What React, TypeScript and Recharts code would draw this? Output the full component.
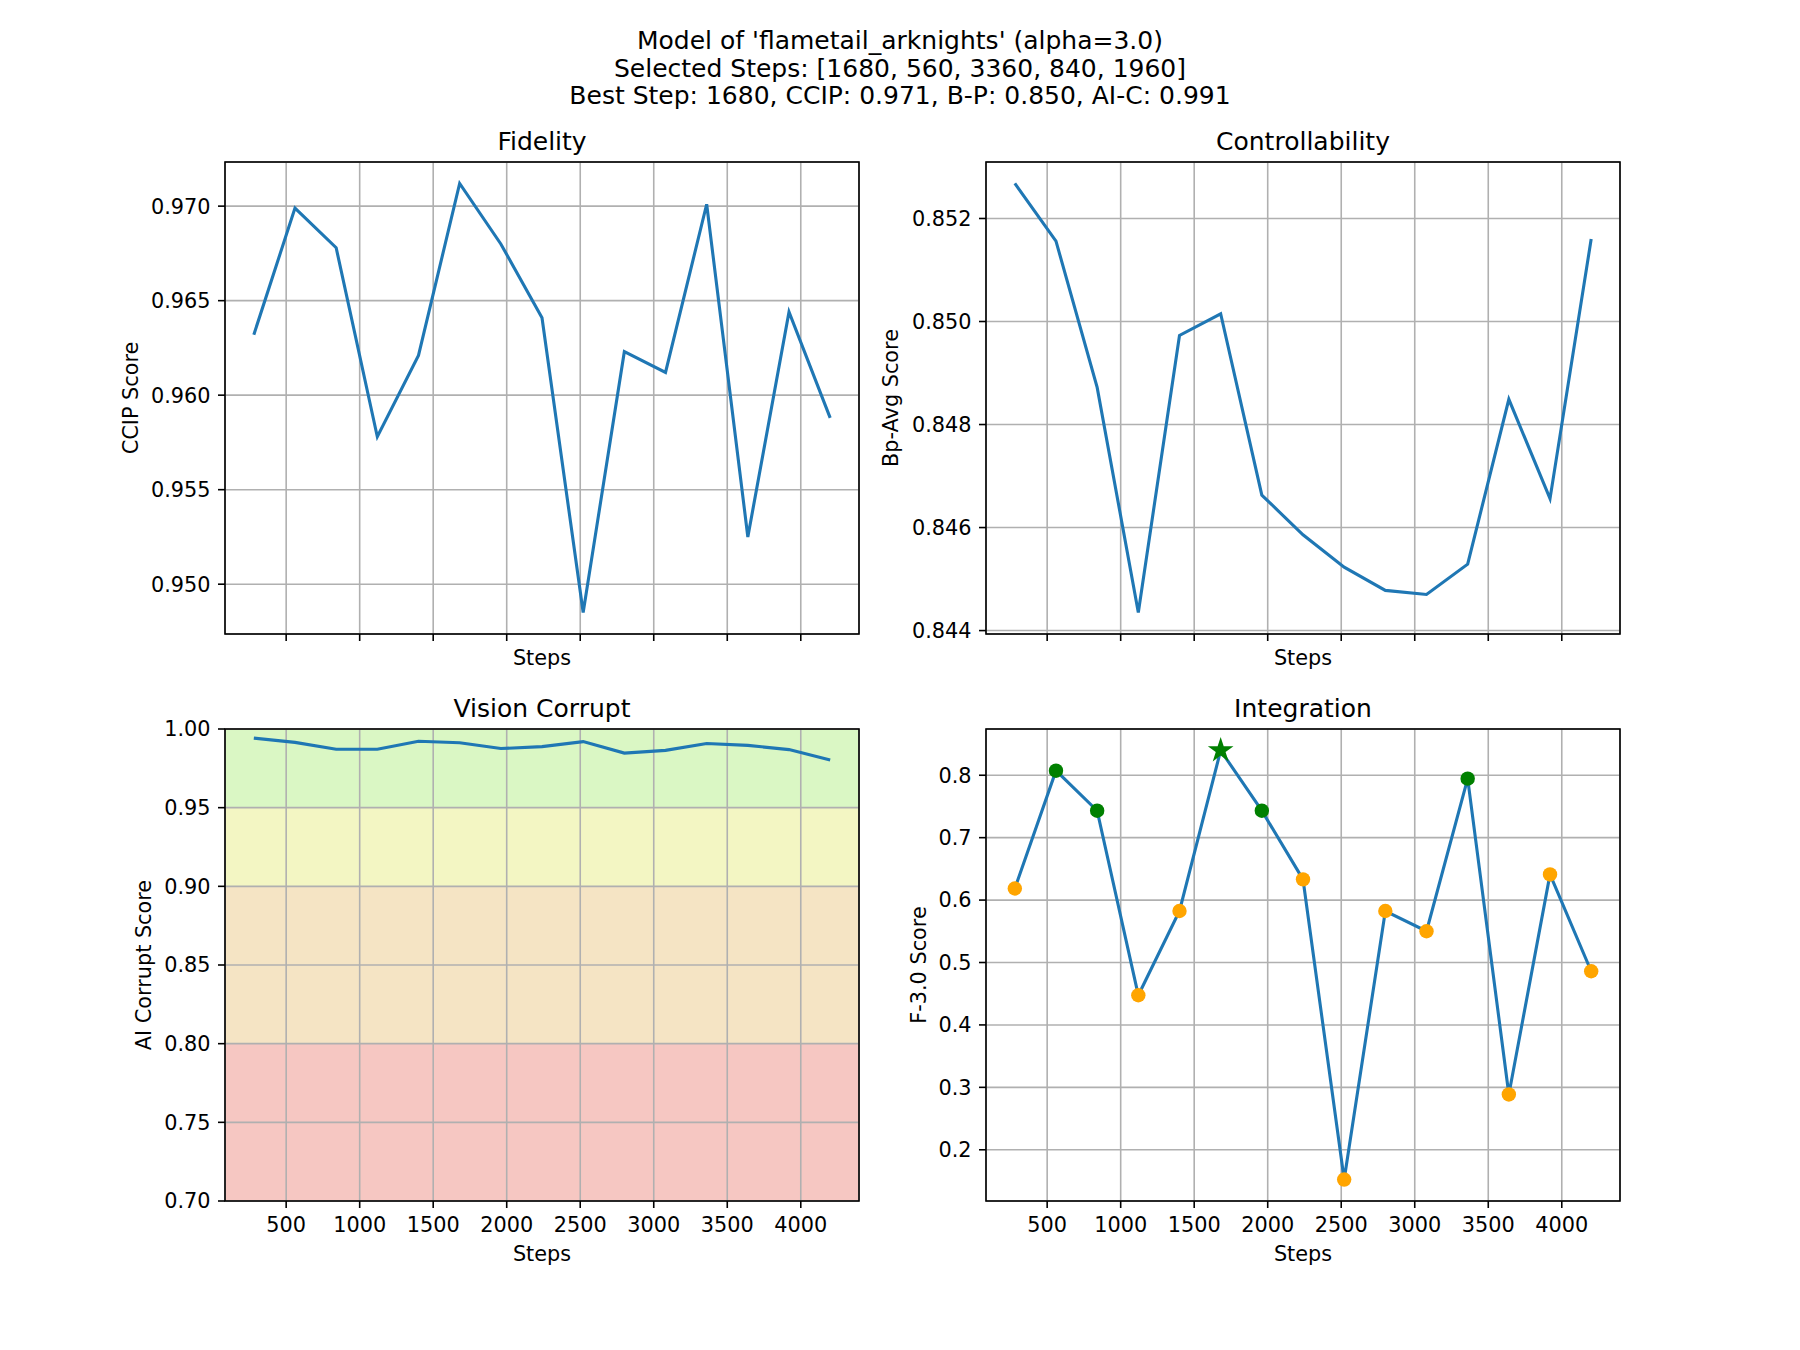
import React from 'react';
import {
  LineChart,
  Line,
  XAxis,
  YAxis,
  CartesianGrid,
  ReferenceArea
} from 'recharts';

// ---- data ----
const steps = [280, 560, 840, 1120, 1400, 1680, 1960, 2240, 2520, 2800, 3080, 3360, 3640, 3920, 4200];
const ccipScores = [0.9632, 0.9699, 0.9678, 0.9578, 0.9621, 0.9712, 0.968, 0.9641, 0.9485, 0.9623, 0.9612, 0.9701, 0.9525, 0.9644, 0.9588];
const bpAvgScores = [0.85268, 0.85156, 0.84872, 0.84435, 0.84973, 0.85015, 0.84663, 0.84586, 0.84523, 0.84478, 0.8447, 0.84529, 0.84849, 0.84656, 0.8516];
const aiCorruptScores = [0.9942, 0.9915, 0.9871, 0.9871, 0.9922, 0.9913, 0.9876, 0.9888, 0.992, 0.9847, 0.9864, 0.9908, 0.9896, 0.9869, 0.9803];
const f3Scores = [0.6185, 0.8073, 0.7432, 0.4475, 0.5825, 0.8397, 0.7432, 0.6332, 0.1523, 0.5825, 0.5501, 0.7945, 0.2886, 0.6411, 0.486];

const selectedSteps = [1680, 560, 3360, 840, 1960];
const bestStep = 1680;

const xTicks = [500, 1000, 1500, 2000, 2500, 3000, 3500, 4000];
const ccipTicks = [0.95, 0.955, 0.96, 0.965, 0.97];
const bpTicks = [0.844, 0.846, 0.848, 0.85, 0.852];
const aiTicks = [0.7, 0.75, 0.8, 0.85, 0.9, 0.95, 1.0];
const f3Ticks = [0.2, 0.3, 0.4, 0.5, 0.6, 0.7, 0.8];
const corruptBands = [0.7, 0.8, 0.9, 0.95, 1.0];

const titleLines = [
  "Model of 'flametail_arknights' (alpha=3.0)",
  'Selected Steps: [1680, 560, 3360, 840, 1960]',
  'Best Step: 1680, CCIP: 0.971, B-P: 0.850, AI-C: 0.991'
];

// ---- styles ----
const FONT = '"DejaVu Sans", sans-serif';
const BLUE = '#1f77b4';
const GRID = '#b0b0b0';
const bandColors = ['#f6c7c2', '#f5e4c4', '#f3f6c3', '#daf7c4'];
const AX_W = 634;
const AX_H = 472;
const COLS = [225, 986];
const ROWS = [162, 729];

const rows = steps.map((s, i) => ({
  step: s,
  ccip: ccipScores[i],
  bp: bpAvgScores[i],
  ai: aiCorruptScores[i],
  f3: f3Scores[i]
}));

const padded = (vals: number[]): [number, number] => {
  const lo = Math.min(...vals);
  const hi = Math.max(...vals);
  const m = (hi - lo) * 0.05;
  return [lo - m, hi + m];
};

const xDomain = padded(steps);

const tickStyle = { fontFamily: FONT, fontSize: 20.8, fill: '#000' };
const tickLine = { stroke: '#000', strokeWidth: 1.6 };

interface PanelProps {
  left: number;
  top: number;
  dataKey: string;
  domain: [number, number];
  yTicks: number[];
  digits: number;
  showXLabels: boolean;
  children?: React.ReactNode;
  before?: React.ReactNode;
}

const Panel: React.FC<PanelProps> = ({ left, top, dataKey, domain, yTicks, digits, showXLabels, children, before }) => (
  <div style={{ position: 'absolute', left: left - 100, top: top - 20 }}>
    <LineChart width={AX_W + 120} height={AX_H + 80} data={rows} margin={{ top: 20, right: 20, left: 0, bottom: 0 }}>
      {before}
      <CartesianGrid stroke={GRID} strokeWidth={1.6} />
      <XAxis
        type="number"
        dataKey="step"
        domain={xDomain}
        ticks={xTicks}
        height={60}
        axisLine={false}
        tickLine={tickLine}
        tickSize={7}
        tickMargin={9}
        tick={tickStyle}
        interval={0}
        tickFormatter={(v: number) => (showXLabels ? String(v) : '')}
      />
      <YAxis
        type="number"
        domain={domain}
        ticks={yTicks}
        width={100}
        axisLine={false}
        tickLine={tickLine}
        tickSize={7}
        tickMargin={7.5}
        tick={tickStyle}
        interval={0}
        tickFormatter={(v: number) => v.toFixed(digits)}
      />
      {children}
      <Line type="linear" dataKey={dataKey} stroke={BLUE} strokeWidth={3.1} dot={false} isAnimationActive={false} />
    </LineChart>
  </div>
);

const starPoints = (cx: number, cy: number, r: number) => {
  const pts: string[] = [];
  for (let k = 0; k < 10; k++) {
    const rad = k % 2 === 0 ? r : r * 0.382;
    const a = -Math.PI / 2 + (k * Math.PI) / 5;
    pts.push(`${cx + rad * Math.cos(a)},${cy + rad * Math.sin(a)}`);
  }
  return pts.join(' ');
};

const renderF3Dot = (props: any) => {
  const { cx, cy, payload, index } = props;
  if (payload.step === bestStep) {
    return <polygon key={`d${index}`} points={starPoints(cx, cy, 13.5)} fill="green" />;
  }
  const picked = selectedSteps.includes(payload.step);
  return <circle key={`d${index}`} cx={cx} cy={cy} r={7.2} fill={picked ? 'green' : 'orange'} />;
};

const panels = [
  { title: 'Fidelity', ylabel: 'CCIP Score', x: COLS[0], y: ROWS[0], labelX: 137.5 },
  { title: 'Controllability', ylabel: 'Bp-Avg Score', x: COLS[1], y: ROWS[0], labelX: 898 },
  { title: 'Vision Corrupt', ylabel: 'AI Corrupt Score', x: COLS[0], y: ROWS[1], labelX: 151 },
  { title: 'Integration', ylabel: 'F-3.0 Score', x: COLS[1], y: ROWS[1], labelX: 926 }
];

export default function App() {
  return (
    <div style={{ position: 'absolute', left: 0, top: 0, width: 1800, height: 1350, background: '#fff', fontFamily: FONT }}>
      <Panel left={COLS[0]} top={ROWS[0]} dataKey="ccip" domain={padded(ccipScores)} yTicks={ccipTicks} digits={3} showXLabels={false} />
      <Panel left={COLS[1]} top={ROWS[0]} dataKey="bp" domain={padded(bpAvgScores)} yTicks={bpTicks} digits={3} showXLabels={false} />
      <Panel
        left={COLS[0]}
        top={ROWS[1]}
        dataKey="ai"
        domain={[0.7, 1.0]}
        yTicks={aiTicks}
        digits={2}
        showXLabels={true}
        before={corruptBands.slice(0, -1).map((lo, i) => (
          <ReferenceArea
            key={`band${i}`}
            y1={lo}
            y2={corruptBands[i + 1]}
            fill={bandColors[i]}
            fillOpacity={1}
            stroke="none"
            zIndex={-200}
          />
        ))}
      />
      <Panel left={COLS[1]} top={ROWS[1]} dataKey="f3" domain={padded(f3Scores)} yTicks={f3Ticks} digits={1} showXLabels={true}>
        <Line type="linear" dataKey="f3" stroke="none" dot={renderF3Dot} activeDot={false} isAnimationActive={false} />
      </Panel>

      <svg width={1800} height={1350} style={{ position: 'absolute', left: 0, top: 0, pointerEvents: 'none' }} fontFamily={FONT}>
        {titleLines.map((t, i) => (
          <text key={t} x={900} y={[49, 77, 104][i]} textAnchor="middle" fontSize={25} fill="#000">
            {t}
          </text>
        ))}
        {panels.map((p) => (
          <g key={p.title}>
            <rect x={p.x} y={p.y} width={AX_W} height={AX_H} fill="none" stroke="#000" strokeWidth={1.6} />
            <text x={p.x + AX_W / 2} y={p.y - 12.5} textAnchor="middle" fontSize={25} fill="#000">
              {p.title}
            </text>
            <text x={p.x + AX_W / 2} y={p.y === ROWS[0] ? 665 : 1261} textAnchor="middle" fontSize={20.8} fill="#000">
              Steps
            </text>
            <text
              x={p.labelX}
              y={p.y + AX_H / 2}
              transform={`rotate(-90 ${p.labelX} ${p.y + AX_H / 2})`}
              textAnchor="middle"
              fontSize={20.8}
              fill="#000"
            >
              {p.ylabel}
            </text>
          </g>
        ))}
      </svg>
    </div>
  );
}
